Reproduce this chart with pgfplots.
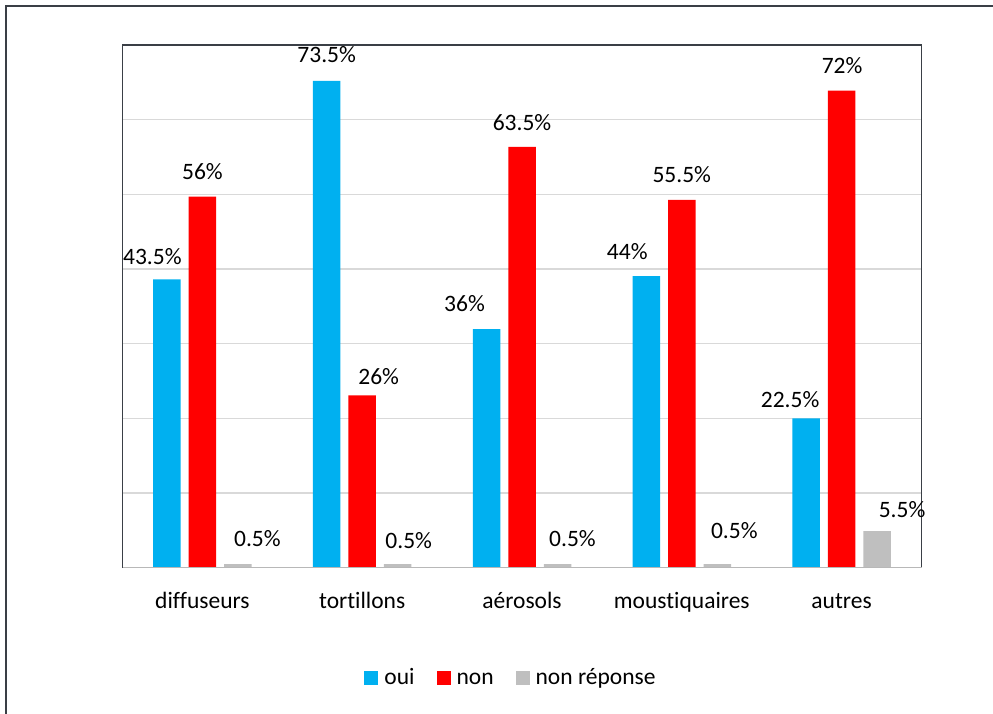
\documentclass[border=0pt]{standalone}
\usepackage{pgfplots}
\pgfplotsset{compat=1.18}
\usepackage{pgfplotstable}
\usepackage{fontspec}
\setmainfont{Carlito}[Ligatures={NoCommon}]
\definecolor{ouiblue}{HTML}{00B0F0}
\definecolor{nonred}{HTML}{FF0000}
\definecolor{nrgray}{HTML}{BFBFBF}
\definecolor{framec}{HTML}{3A3F46}
\definecolor{gridc}{HTML}{D9D9D9}

% dx: horizontal label offset, dy: baseline height of label above bar top (pt)
\pgfplotstableread{
x y dx dy
0 43.5 -14.5 14.6
1 73.5 0 18.3
2 36 -22 17.6
3 44 -19 16.6
4 22.5 -16 10.7
}\oui
\pgfplotstableread{
x y dx dy
0 56 0 16.9
1 26 16.5 10.9
2 63.5 0 16.6
3 55.5 0 17.6
4 72 0.5 17.6
}\non
\pgfplotstableread{
x y dx dy
0 0.5 19.5 17.6
1 0.5 11 15.2
2 0.5 15 17.6
3 0.5 17 25.2
4 5.5 25 13.6
}\nr

\begin{document}
\begin{tikzpicture}[font=\fontsize{23.5}{28}\selectfont]
\useasboundingbox (0,0) rectangle (993pt,713pt);
\draw[framec, line width=1.5pt] (6pt,-2pt) -- (6pt,707pt) -- (996pt,707pt);
\begin{axis}[
  at={(122.5pt,145.5pt)}, anchor=south west,
  scale only axis, width=799pt, height=522.5pt,
  ybar=8pt, bar width=27.5pt,
  xmin=-0.5, xmax=4.5, ymin=0, ymax=78.9,
  xtick={0,1,2,3,4},
  xticklabels={diffuseurs,tortillons,aérosols,moustiquaires,autres},
  ytick={11.27,22.54,33.81,45.09,56.36,67.63},
  yticklabels={},
  major tick length=0pt,
  ymajorgrids, grid style={gridc, line width=1.3pt},
  axis line style={draw=none},
  xticklabel style={anchor=base, yshift=-40.5pt, font=\fontsize{23.5}{28}\selectfont},
  clip=false,
  nodes near coords={\pgfmathprintnumber[assume math mode=true]{\pgfplotspointmeta}\%},
  visualization depends on={\thisrow{dx}\as\dx},
  visualization depends on={\thisrow{dy}\as\dy},
  every node near coord/.append style={anchor=base, xshift=\dx pt, yshift=\dy pt, inner sep=0pt, font=\fontsize{23.5}{28}\selectfont, text=black},
  legend style={at={(0.485,-0.2096)}, anchor=center, draw=none, fill=none,
    legend columns=-1, inner sep=0pt, outer sep=0pt,
    font=\fontsize{23.5}{28}\selectfont,
    nodes={inner sep=0pt, anchor=base west},
    cells={anchor=base west},
    /tikz/every odd column/.append style={column sep=6pt},
    /tikz/every even column/.append style={column sep=22pt}},
  legend image code/.code={\fill[#1] (0pt,-0.5pt) rectangle (14pt,13.5pt);},
]
\addplot[fill=ouiblue, draw=none] table[x=x,y=y] {\oui};
\addlegendentry{oui}
\addplot[fill=nonred, draw=none] table[x=x,y=y] {\non};
\addlegendentry{non}
\addplot[fill=nrgray, draw=none] table[x=x,y=y] {\nr};
\addlegendentry{non réponse}
\draw[framec, line width=1.5pt] (rel axis cs:0,0) -- (rel axis cs:0,1) -- (rel axis cs:1,1) -- (rel axis cs:1,0);
\draw[gridc!85!black, line width=1.3pt] (rel axis cs:0,0) -- (rel axis cs:1,0);
\end{axis}
\end{tikzpicture}
\end{document}
